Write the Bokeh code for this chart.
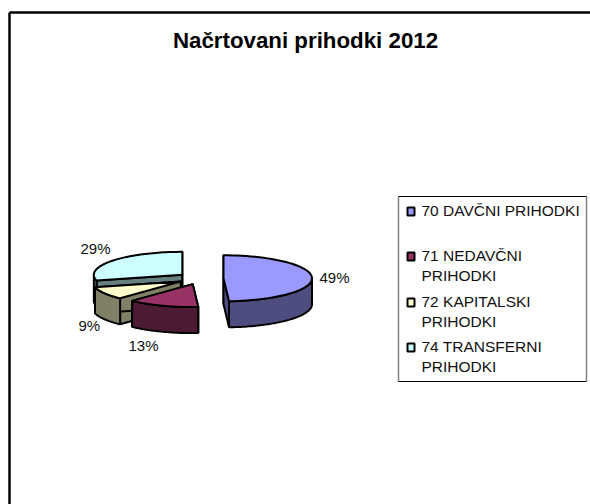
import numpy as np
from bokeh.plotting import figure
from bokeh.models import Range1d
from bokeh.embed import file_html
from bokeh.resources import INLINE
from bokeh.core.properties import value

title = "Načrtovani prihodki 2012"
values = [49, 13, 9, 29]
pct_labels = ["49%", "13%", "9%", "29%"]
legend_lines = [["70 DAVČNI PRIHODKI"], ["71 NEDAVČNI", "PRIHODKI"], ["72 KAPITALSKI", "PRIHODKI"], ["74 TRANSFERNI", "PRIHODKI"]]
top_colors = ["#9999FF", "#993366", "#FFFFCC", "#CCFFFF"]
side_colors = ["#4D4D80", "#4D1A33", "#808066", "#668080"]

FONT = "Liberation Sans"
p = figure(width=590, height=504, output_backend="svg", toolbar_location=None,
           x_range=Range1d(0, 590), y_range=Range1d(504, 0), min_border=0)
p.axis.visible = False
p.grid.visible = False
p.outline_line_color = None
p.background_fill_color = "white"
p.border_fill_color = "white"

# chart frame
p.line([9, 9], [504, 12], line_color="black", line_width=2.5)
p.line([9, 590], [12, 12], line_color="black", line_width=2.5)

CX, CY, RX, RY, H, EXPL = 200, 278, 88.5, 23, 26, 23
fr = np.array(values) / sum(values) * 2 * np.pi
ends = np.cumsum(fr)
starts = ends - fr

def pt(cx, cy, a):
    return cx + RX * np.sin(a), cy - RY * np.cos(a)

for i in [3, 2, 1, 0]:
    mid = (starts[i] + ends[i]) / 2
    cx = CX + EXPL * np.sin(mid)
    cy = CY - EXPL * RY / RX * np.cos(mid)
    t = np.linspace(starts[i], ends[i], 60)
    ax, ay = pt(cx, cy, t)
    for a in (starts[i], ends[i]):
        ex, ey = pt(cx, cy, a)
        p.patch([cx, ex, ex, cx], [cy, ey, ey + H, cy + H], fill_color=side_colors[i], line_color="black", line_width=2)
    vis = np.linspace(max(starts[i], np.pi / 2), min(ends[i], 3 * np.pi / 2), 60)
    if vis[-1] > vis[0]:
        vx, vy = pt(cx, cy, vis)
        p.patch(np.r_[vx, vx[::-1]], np.r_[vy, vy[::-1] + H], fill_color=side_colors[i], line_color="black", line_width=2)
    p.patch(np.r_[cx, ax], np.r_[cy, ay], fill_color=top_colors[i], line_color="black", line_width=2, line_join="round")

# percent labels
label_x = [319, 128, 78, 80]
label_y = [277, 345, 325, 248]
p.text(label_x, label_y, text=pct_labels, text_font=value(FONT), text_font_size="15px", text_color="#111111",
       text_baseline="middle", text_align="left")

# title
p.text([305], [40], text=[title], text_font=value(FONT), text_font_size="22.3px", text_font_style="bold",
       text_align="center", text_baseline="middle", text_color="black")

# legend box: grey left and right edges, black top and bottom
p.line([398, 398], [196, 381], line_color="#808080", line_width=1.5)
p.line([586, 586], [196, 381], line_color="#808080", line_width=1.5)
p.line([398, 586], [196, 196], line_color="black", line_width=1)
p.line([398, 586], [381, 381], line_color="black", line_width=1)
sw_y = [211, 256, 302, 347]
p.quad(left=[407] * 4, right=[414] * 4, top=[y - 4 for y in sw_y], bottom=[y + 4 for y in sw_y],
       fill_color=top_colors, line_color="black", line_width=2)
lx, ly, lt = [], [], []
for y, lines in zip(sw_y, legend_lines):
    for j, s in enumerate(lines):
        lx.append(421); ly.append(y + j * 20 - 1); lt.append(s)
p.text(lx, ly, text=lt, text_font=value(FONT), text_font_size="15.5px", text_color="#111111",
       text_baseline="middle", text_align="left")

open("out.html", "w").write(file_html(p, INLINE))
